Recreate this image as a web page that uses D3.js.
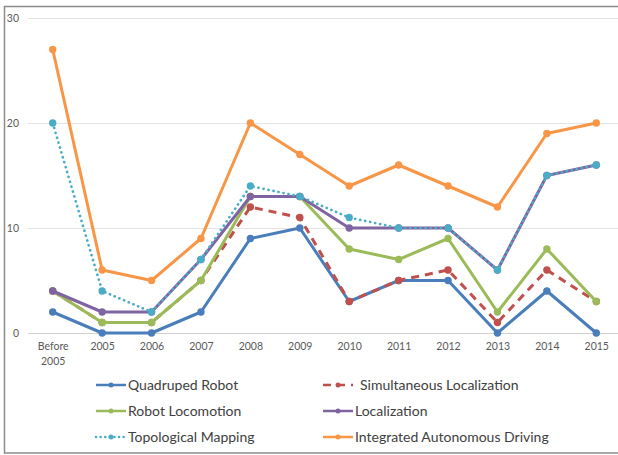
<!DOCTYPE html>
<html><head><meta charset="utf-8">
<script src="https://cdn.jsdelivr.net/npm/d3@7"></script>
<style>html,body{margin:0;padding:0;background:#fff;}svg{display:block;}</style>
</head><body>
<svg id="c" width="618" height="455"></svg>
<script>
const categories = ["Before 2005","2005","2006","2007","2008","2009","2010","2011","2012","2013","2014","2015"];
const yTicks = [0,10,20,30];
const seriesNames = ["Quadruped Robot","Simultaneous Localization","Robot Locomotion","Localization","Topological Mapping","Integrated Autonomous Driving"];
const quadruped = [2,0,0,2,9,10,3,5,5,0,4,0];
const simultaneous = [4,1,1,5,12,11,3,5,6,1,6,3];
const locomotion = [4,1,1,5,13,13,8,7,9,2,8,3];
const localization = [4,2,2,7,13,13,10,10,10,6,15,16];
const topological = [20,4,2,7,14,13,11,10,10,6,15,16];
const autonomous = [27,6,5,9,20,17,14,16,14,12,19,20];

const seriesValues = [quadruped, simultaneous, locomotion, localization, topological, autonomous];
const colors = ["#4a7ebb","#c0504d","#9bbb59","#8064a2","#4bacc6","#f79646"];
const dashes = [null,"8,6",null,null,"0.1,5",null];

const svg = d3.select("#c");
// frame
svg.append("rect").attr("x",4.5).attr("y",6.5).attr("width",640).attr("height",446.5)
  .attr("fill","none").attr("stroke","#8c8c8c").attr("stroke-width",1.5);

const x = d3.scalePoint().domain(categories).range([28,621]).padding(0.5);
const y = d3.scaleLinear().domain([0,30]).range([333,18]);

// gridlines
svg.append("g").selectAll("line").data(yTicks).join("line")
  .attr("x1",28).attr("x2",621).attr("y1",d=>y(d)+0.5).attr("y2",d=>y(d)+0.5)
  .attr("stroke",d=>d===0?"#d0d0d0":"#e3e3e3").attr("stroke-width",1);

// y labels
const yAxis = d3.axisLeft(y).tickValues(yTicks).tickSize(0).tickPadding(0);
const ga = svg.append("g").attr("transform","translate(19,0)").call(yAxis);
ga.select(".domain").remove();
ga.selectAll("text").attr("fill","#595959").style("font-family","Lato, 'Open Sans', sans-serif").style("font-size","10.5px");

// x labels
const xAxis = d3.axisBottom(x).tickSize(0).tickPadding(0);
const gx = svg.append("g").attr("transform","translate(0,343)").call(xAxis);
gx.select(".domain").remove();
gx.selectAll("text").attr("fill","#595959").style("font-family","Lato, 'Open Sans', sans-serif").style("font-size","10.5px")
  .each(function(d){
    const t = d3.select(this);
    const parts = d.split(" ");
    if (parts.length>1){
      t.text(null);
      parts.forEach((p,i)=>t.append("tspan").attr("x",0).attr("dy", i===0?"0.71em":"1.35em").text(p));
    }
  });

const line = d3.line().x((d,i)=>x(categories[i])).y(d=>y(d));
seriesValues.forEach((vals,si)=>{
  const g = svg.append("g");
  const p = g.append("path").datum(vals).attr("d",line).attr("fill","none")
    .attr("stroke",colors[si]).attr("stroke-width",si===4?2.7:3).attr("stroke-linejoin","round")
    .attr("stroke-linecap", si===4?"round":"butt");
  if (dashes[si]) p.attr("stroke-dasharray",dashes[si]);
  g.selectAll("circle").data(vals).join("circle")
    .attr("cx",(d,i)=>x(categories[i])).attr("cy",d=>y(d)).attr("r",3.7).attr("fill",colors[si]);
});

// legend
const legendPos = [[96,385],[323,385],[96,411],[323,411],[96,437],[323,437]];
const lg = svg.append("g");
seriesNames.forEach((name,si)=>{
  const [lx,ly] = legendPos[si];
  const l = lg.append("line").attr("x1",lx).attr("x2",lx+30).attr("y1",ly).attr("y2",ly)
    .attr("stroke",colors[si]).attr("stroke-width",2.5).attr("stroke-linecap",si===4?"round":"butt");
  if (dashes[si]) l.attr("stroke-dasharray", si===1?"8,6":"0.1,4.5");
  lg.append("circle").attr("cx",lx+15).attr("cy",ly).attr("r",2.5).attr("fill",colors[si]);
  lg.append("text").attr("x", lx+32 + (si===1?5:0)).attr("y",ly).attr("dy","0.35em")
    .attr("fill","#404040").style("font-family","Lato, 'Open Sans', sans-serif").style("font-size","14px")
    .text(name);
});
</script>
</body></html>
